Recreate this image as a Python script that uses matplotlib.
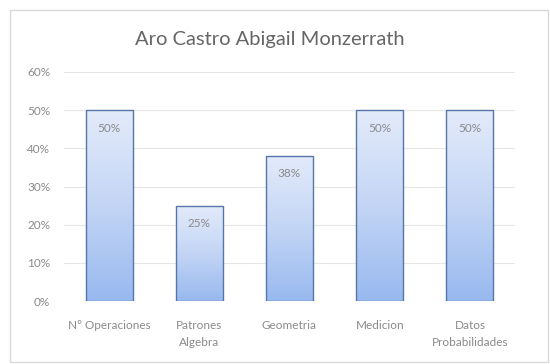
import numpy as np
import matplotlib
matplotlib.use("Agg")
import matplotlib.pyplot as plt
from matplotlib.patches import Rectangle
from matplotlib.colors import LinearSegmentedColormap
from matplotlib.ticker import FuncFormatter

plt.rcParams['font.family'] = ['Lato', 'DejaVu Sans']

# data
categories = ['N° Operaciones', 'Patrones\nAlgebra', 'Geometria', 'Medicion', 'Datos\nProbabilidades']
values = [50, 25, 38, 50, 50]
yticks = [0, 10, 20, 30, 40, 50, 60]
title = 'Aro Castro Abigail Monzerrath'

fig = plt.figure(figsize=(5.5, 3.64), dpi=100)
fig.patch.set_facecolor('white')

# outer chart border
fig.add_artist(Rectangle((10/550, 2/364), 538/550, 352/364, transform=fig.transFigure,
                         fill=False, edgecolor='#d9d9d9', lw=1))

ax = fig.add_axes([64/550, 1 - 301/364, 451/550, 229/364])
x = np.arange(len(categories))
bars = ax.bar(x, values, width=0.52, color='none', edgecolor='#5676a8', lw=1.0, zorder=3)

# vertical gradient in each bar, light at top, darker at bottom
cmap = LinearSegmentedColormap.from_list('bargrad', ['#98b9ef', '#c3d5f5', '#e3ebfa'])
grad = np.linspace(0, 1, 256).reshape(-1, 1)
for b in bars:
    x0, w, h = b.get_x(), b.get_width(), b.get_height()
    im = ax.imshow(grad, cmap=cmap, aspect='auto', origin='lower',
                   extent=[x0, x0 + w, 0, h], zorder=2)
    im.set_clip_path(b)
    ax.text(x0 + w / 2, h - 4.7, f'{h:.0f}%', ha='center', va='center',
            fontsize=8.5, color='#8a8a8a', zorder=4)

ax.set_xlim(-0.5, len(categories) - 0.5)
ax.set_ylim(0, 60)
ax.set_yticks(yticks)
ax.yaxis.set_major_formatter(FuncFormatter(lambda v, p: f'{v:.0f}%'))
ax.set_xticks(x)
ax.set_xticklabels(categories, linespacing=1.6)
ax.tick_params(axis='both', length=0, labelsize=8.5, colors='#8a8a8a')
ax.tick_params(axis='y', pad=10)
ax.tick_params(axis='x', pad=14)
ax.grid(axis='y', color='#e6e6e6', lw=0.8, zorder=0)
for s in ax.spines.values():
    s.set_visible(False)

fig.text(270/550, 1 - 40/364, title, ha='center', va='center', fontsize=14.5, color='#666666')

fig.savefig('out.png', dpi=100, facecolor='white')
